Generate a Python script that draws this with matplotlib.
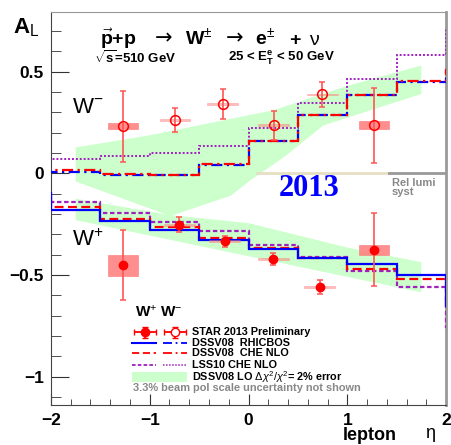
import numpy as np
import matplotlib
matplotlib.use('Agg')
from matplotlib import pyplot as plt
from matplotlib import rc
from matplotlib.patches import Rectangle

rc('font', family='Liberation Sans')
rc('mathtext', fontset='custom', rm='Liberation Sans', bf='Liberation Sans:bold',
   it='Liberation Sans:italic', sf='Liberation Sans')

# theory histograms, bins of 0.5 in lepton eta (one extra bin on each side, clipped)
eta_edges = [-2.5, -2.0, -1.5, -1.0, -0.5, 0.0, 0.5, 1.0, 1.5, 2.0, 2.5]
wm_rhicbos = [0.006, 0.006, -0.007, -0.010, 0.043, 0.159, 0.286, 0.384, 0.450, 0.510]
wm_che = [0.018, 0.018, -0.005, -0.008, 0.045, 0.161, 0.288, 0.386, 0.452, 0.510]
wm_lss = [0.069, 0.069, 0.085, 0.102, 0.133, 0.225, 0.346, 0.466, 0.580, 0.710]
wp_rhicbos = [-0.095, -0.182, -0.235, -0.281, -0.327, -0.374, -0.417, -0.445, -0.502, -0.650]
wp_che = [-0.095, -0.166, -0.223, -0.264, -0.317, -0.369, -0.415, -0.470, -0.522, -0.650]
wp_lss = [-0.095, -0.141, -0.195, -0.240, -0.286, -0.351, -0.412, -0.478, -0.560, -0.755]

# DSSV08 LO error bands
wm_band_eta_up = [-1.75, -1.0, 0.25, 1.0, 1.75]
wm_band_up = [0.127, 0.187, 0.310, 0.430, 0.530]
wm_band_eta_lo = [-1.75, -0.79, -0.18, 0.02, 0.36, 0.76, 1.75]
wm_band_lo = [-0.040, -0.210, -0.110, -0.034, 0.080, 0.236, 0.390]
wp_band_eta_up = [-1.75, -0.8, 0.0, 0.5, 1.0, 1.75]
wp_band_up = [-0.125, -0.205, -0.245, -0.305, -0.365, -0.437]
wp_band_eta_lo = [-1.75, 1.75]
wp_band_lo = [-0.230, -0.585]

# STAR 2013 preliminary
wm_eta = [-1.27, -0.745, -0.263, 0.256, 0.747, 1.27]
wm_al = [0.232, 0.261, 0.341, 0.236, 0.388, 0.236]
wm_stat = [0.175, 0.060, 0.073, 0.072, 0.060, 0.185]
wm_syst = [0.015, 0.004, 0.004, 0.004, 0.004, 0.020]
wp_eta = [-1.27, -0.70, -0.24, 0.25, 0.72, 1.27]
wp_al = [-0.453, -0.253, -0.333, -0.420, -0.560, -0.376]
wp_stat = [0.172, 0.037, 0.027, 0.030, 0.035, 0.180]
wp_syst = [0.052, 0.004, 0.004, 0.004, 0.004, 0.026]

band_color = '#ccffcc'
blue = '#0000ff'
red = '#ff0000'
purple = '#a020c0'
err_red = '#ff5555'
syst_red = '#ff7a7a'

fig = plt.figure(figsize=(4.52, 4.45), dpi=100)
ax = fig.add_axes([0.1128, 0.0899, 0.874, 0.8831])

# bands
ax.fill(wm_band_eta_up + wm_band_eta_lo[::-1], wm_band_up + wm_band_lo[::-1],
        color=band_color, lw=0, zorder=1)
ax.fill(wp_band_eta_up + wp_band_eta_lo[::-1], wp_band_up + wp_band_lo[::-1],
        color=band_color, lw=0, zorder=1)

# zero line / rel lumi
ax.plot([0.09, 1.42], [0, 0], color='#e6dfc2', lw=2, zorder=2)
ax.plot([1.42, 2.0], [0, 0], color='#999999', lw=2, zorder=2)

# theory
ax.stairs(wp_lss, eta_edges, baseline=None, color=purple, lw=1.6, ls=(0, (2, 1.2)), zorder=3)
ax.stairs(wp_che, eta_edges, baseline=None, color=red, lw=1.6, ls=(0, (4, 2)), zorder=3)
ax.stairs(wp_rhicbos, eta_edges, baseline=None, color=blue, lw=1.6, zorder=3)
ax.stairs(wm_lss, eta_edges, baseline=None, color=purple, lw=1.4, ls=(0, (1, 1)), zorder=3)
ax.stairs(wm_rhicbos, eta_edges, baseline=None, color=blue, lw=1.6, ls=(0, (5, 2, 1, 2)), zorder=3)
ax.stairs(wm_che, eta_edges, baseline=None, color=red, lw=1.6, ls=(3, (5, 2, 1, 2)), zorder=3)

# data
for eta, al, sy in zip(wm_eta + wp_eta, wm_al + wp_al, wm_syst + wp_syst):
    alpha = 0.85 if sy > 0.01 else 0.5
    ax.add_patch(Rectangle((eta - 0.155, al - sy), 0.31, 2 * sy, facecolor=syst_red,
                           edgecolor=syst_red, lw=0.5, alpha=alpha, zorder=4))
ax.errorbar(wm_eta, wm_al, yerr=wm_stat, fmt='none', ecolor=err_red, elinewidth=1.2,
            capsize=2.5, capthick=1.1, zorder=5)
ax.errorbar(wp_eta, wp_al, yerr=wp_stat, fmt='none', ecolor=err_red, elinewidth=1.2,
            capsize=2.5, capthick=1.1, zorder=5)
ax.plot(wm_eta, wm_al, 'o', ms=7, mfc='none', mec=red, mew=1.1, zorder=6)
ax.plot(wp_eta, wp_al, 'o', ms=6, color=red, zorder=6)

ax.set_xlim(-2, 2)
ax.set_ylim(-1.139, 0.793)
ax.set_xticks([-2, -1, 0, 1, 2])
ax.set_xticks(np.arange(-2, 2.01, 0.2), minor=True)
ax.set_yticks([-1, -0.5, 0, 0.5])
ax.set_yticks(np.arange(-1.1, 0.75, 0.1), minor=True)
ax.set_xticklabels(['\u22122', '\u22121', '0', '1', '2'])
ax.set_yticklabels(['\u22121', '\u22120.5', '0', '0.5'])
ax.tick_params(which='both', direction='in', labelsize=12.5, top=False, right=False,
               color='#333333')
ax.tick_params(axis='y', which='major', length=13, pad=5)
ax.tick_params(axis='y', which='minor', length=7)
ax.tick_params(axis='x', which='major', length=8, pad=6)
ax.tick_params(axis='x', which='minor', length=4)
for lab in ax.get_xticklabels() + ax.get_yticklabels():
    lab.set_fontweight('bold')
ax.spines['left'].set_color('#444444')
ax.spines['bottom'].set_color('#444444')
ax.spines['top'].set_color('#999999')
ax.spines['right'].set_color('#999999')
ax.spines['right'].set_linewidth(2)

# text
tr = ax.transAxes
base = 0.916
ax.text(0.124, base, r'$\vec{\mathbf{p}}\mathbf{+p}$', transform=tr, fontsize=14,
        va='baseline', ha='left')
ax.text(0.262, base + 0.002, '\u2192', transform=tr, fontsize=15, family='DejaVu Sans',
        va='baseline', ha='left')
ax.text(0.339, base, r'$\mathbf{W}^{\pm}$', transform=tr, fontsize=14, va='baseline', ha='left')
ax.text(0.442, base + 0.002, '\u2192', transform=tr, fontsize=15, family='DejaVu Sans',
        va='baseline', ha='left')
ax.text(0.516, base, r'$\mathbf{e}^{\pm}$', transform=tr, fontsize=14, va='baseline', ha='left')
ax.text(0.603, base, '+', transform=tr, fontsize=14, fontweight='bold',
        va='baseline', ha='left')
ax.text(0.652, base, '\u03bd', transform=tr, fontsize=14, va='baseline', ha='left')
ax.text(0.11, 0.883, r'$\sqrt{\mathbf{s}}$' + '=510 GeV', transform=tr, fontsize=9.5,
        fontweight='bold', va='center', ha='left')
ax.text(0.448, 0.883, r'25 < E$_{\mathbf{T}}^{\mathbf{e}}$ < 50 GeV', transform=tr, fontsize=9.5,
        fontweight='bold', va='center', ha='left')
ax.text(0.052, 0.758, r'W$^{-}$', transform=tr, fontsize=16, va='center', ha='left')
ax.text(0.052, 0.42, r'W$^{+}$', transform=tr, fontsize=16, va='center', ha='left')
ax.text(0.653, 0.552, '2013', transform=tr, fontsize=22, fontweight='bold', color=blue,
        family='Liberation Serif', va='center', ha='center')
ax.text(0.863, 0.553, 'Rel lumi\nsyst', transform=tr, fontsize=8, fontweight='bold',
        color='#888888', va='center', ha='left', linespacing=0.95)

# legend
ax.text(0.213, 0.237, r'W$^{+}$ W$^{-}$', transform=tr, fontsize=11, fontweight='bold',
        va='center', ha='left')
rows = [0.185, 0.158, 0.132, 0.102, 0.071]
ax.errorbar([0.238], [rows[0]], xerr=0.029, yerr=0.014, fmt='o', ms=6, color=red,
            ecolor=red, elinewidth=1.3, capsize=2, transform=tr, clip_on=False, zorder=7)
ax.errorbar([0.314], [rows[0]], xerr=0.029, yerr=0.014, fmt='o', ms=6, mfc='white',
            mec=red, ecolor=red, elinewidth=1.3, capsize=2, transform=tr, clip_on=False, zorder=7)
ax.plot([0.205, 0.266], [rows[1]] * 2, color=blue, lw=1.5, transform=tr)
ax.plot([0.284, 0.344], [rows[1]] * 2, color=blue, lw=1.3, ls=(0, (5, 2, 1, 2)), transform=tr)
ax.plot([0.205, 0.266], [rows[2]] * 2, color=red, lw=1.3, ls=(0, (4, 2)), transform=tr)
ax.plot([0.284, 0.344], [rows[2]] * 2, color=red, lw=1.3, ls=(0, (5, 2, 1, 2)), transform=tr)
ax.plot([0.205, 0.266], [rows[3]] * 2, color=purple, lw=1.3, ls=(0, (2, 1.2)), transform=tr)
ax.plot([0.284, 0.344], [rows[3]] * 2, color=purple, lw=1.1, ls=(0, (1, 1)), transform=tr)
ax.add_patch(Rectangle((0.205, 0.059), 0.139, 0.025, facecolor=band_color, lw=0,
                       transform=tr, zorder=7))
labels = ['STAR 2013 Preliminary', 'DSSV08  RHICBOS', 'DSSV08  CHE NLO', 'LSS10 CHE NLO',
          r'DSSV08 LO $\Delta\chi^{2}/\chi^{2}$= 2% error']
for y, lab in zip(rows, labels):
    ax.text(0.357, y, lab, transform=tr, fontsize=7.8, fontweight='bold', va='center', ha='left')
ax.text(0.207, 0.042, '3.3% beam pol scale uncertainty not shown', transform=tr, fontsize=7.9,
        fontweight='bold', color='#888888', va='center', ha='left')

# axis titles
fig.text(0.029, 0.937, r'A$_{\mathrm{L}}$', fontsize=16, fontweight='bold', va='center', ha='left')
fig.text(0.759, 0.022, 'lepton', fontsize=13, fontweight='bold', va='center', ha='left')
fig.text(0.94, 0.026, '\u03b7', fontsize=13, va='center', ha='left')

fig.savefig('out.png', dpi=100)
